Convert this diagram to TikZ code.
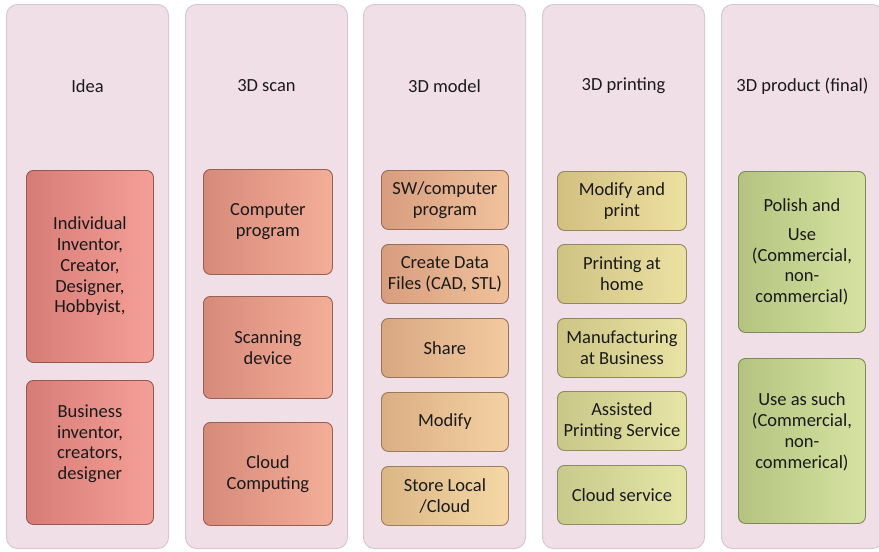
\documentclass[tikz,border=0pt]{standalone}
\usepackage{fontspec}
\setmainfont{Carlito}
\usetikzlibrary{positioning}
\definecolor{stagepink}{HTML}{F0DFE7}
\definecolor{stageedge}{HTML}{D8C8D0}
\definecolor{inktext}{HTML}{1A1A1A}
\definecolor{ideaA}{HTML}{D67C76}
\definecolor{ideaB}{HTML}{F4A097}
\definecolor{scanA}{HTML}{D78A7A}
\definecolor{scanB}{HTML}{F3AE98}
\definecolor{modelA}{HTML}{D79D7E}
\definecolor{modelB}{HTML}{F1C29C}
\definecolor{modelC}{HTML}{DBB686}
\definecolor{modelD}{HTML}{F5D8A6}
\definecolor{printA}{HTML}{D2C081}
\definecolor{printB}{HTML}{EEE0A0}
\definecolor{printC}{HTML}{C7CA8A}
\definecolor{printD}{HTML}{E4E6A8}
\definecolor{prodA}{HTML}{B4C480}
\definecolor{prodB}{HTML}{D6E2A2}
\tikzset{/flow/stage/.style={
shape=rectangle, rounded corners=11pt, draw=stageedge, line width=1pt, fill=stagepink, inner sep=0, minimum width=162pt, minimum height=544pt, anchor=north west
}}
\tikzset{/flow/head/.style={font=\fontsize{18.5}{21}\selectfont, text=inktext}}
\tikzset{/flow/item/.style n args={3}{
shape=rectangle, rounded corners=7pt, left color=#1, right color=#2, draw=#1!70!black, line width=0.9pt, inner sep=1pt, anchor=north west, align=center, text=inktext, font=\fontsize{18.5}{20.8}\selectfont, minimum height=#3
}}

\begin{document}
\begin{tikzpicture}[x=1pt, y=1pt]
			\useasboundingbox (0,0) rectangle (879,-552);
			\path (6,-4) node[/flow/stage] (Idea) {};
			\path (185,-4) node[/flow/stage] (Scan) {};
			\path (363,-4) node[/flow/stage] (Model) {};
			\path (542,-4) node[/flow/stage] (Print) {};
			\path (721,-4) node[/flow/stage] (Product) {};
			\path (Idea.north) ++(0,-82) node[/flow/head] (IdeaHead) {Idea};
			\path (Scan.north) ++(0,-82) node[/flow/head] (ScanHead) {3D scan};
			\path (Model.north) ++(0,-82) node[/flow/head] (ModelHead) {3D model};
			\path (Print.north) ++(0,-82) node[/flow/head] (PrintHead) {3D printing};
			\path (Product.north) ++(0,-82) node[/flow/head] (ProductHead) {3D product (final)};
			% idea
			\path (26,-170) node[/flow/item={ideaA}{ideaB}{192pt}, minimum width=127pt] (Inventor) {Individual\\Inventor,\\Creator,\\Designer,\\Hobbyist,};
			\path (26,-380) node[/flow/item={ideaA}{ideaB}{144pt}, minimum width=127pt] (Business) {Business\\inventor,\\creators,\\designer\\\mbox{}};
			% scan
			\path (203,-169) node[/flow/item={scanA}{scanB}{105pt}, minimum width=129pt] (ScanSW) {Computer\\program};
			\path (203,-296) node[/flow/item={scanA}{scanB}{102pt}, minimum width=129pt] (ScanDev) {Scanning\\device};
			\path (203,-422) node[/flow/item={scanA}{scanB}{103pt}, minimum width=129pt] (ScanCloud) {Cloud\\Computing};
			% model
			\path (381,-170) node[/flow/item={modelA}{modelB}{59pt}, minimum width=127pt] (ModelSW) {SW/computer\\program};
			\path (381,-244) node[/flow/item={modelA}{modelB}{59pt}, minimum width=127pt] (ModelData) {Create Data\\Files (CAD, STL)};
			\path (381,-318) node[/flow/item={modelA!60!modelC}{modelB!60!modelD}{59pt}, minimum width=127pt] (ModelShare) {Share};
			\path (381,-392) node[/flow/item={modelA!30!modelC}{modelB!30!modelD}{59pt}, minimum width=127pt] (ModelMod) {Modify};
			\path (381,-466) node[/flow/item={modelC}{modelD}{59pt}, minimum width=127pt] (ModelStore) {Store Local\\/Cloud};
			% printing
			\path (557,-171) node[/flow/item={printA}{printB}{59pt}, minimum width=129pt] (PrintMod) {Modify and\\print};
			\path (557,-244) node[/flow/item={printA!75!printC}{printB!75!printD}{59pt}, minimum width=129pt] (PrintHome) {Printing at\\home};
			\path (557,-318) node[/flow/item={printA!50!printC}{printB!50!printD}{59pt}, minimum width=129pt] (PrintBiz) {Manufacturing\\at Business};
			\path (557,-391) node[/flow/item={printA!25!printC}{printB!25!printD}{59pt}, minimum width=129pt] (PrintAssist) {Assisted\\Printing Service};
			\path (557,-465) node[/flow/item={printC}{printD}{59pt}, minimum width=129pt] (PrintCloud) {Cloud service};
			% product
			\path (738,-171) node[/flow/item={prodA}{prodB}{161pt}, minimum width=127pt] (Polish) {Polish and\\[8pt]Use\\(Commercial,\\non-\\commercial)};
			\path (738,-358) node[/flow/item={prodA}{prodB}{165pt}, minimum width=127pt] (AsSuch) {Use as such\\(Commercial,\\non-\\commerical)\\\mbox{}};
		\end{tikzpicture}
\end{document}
